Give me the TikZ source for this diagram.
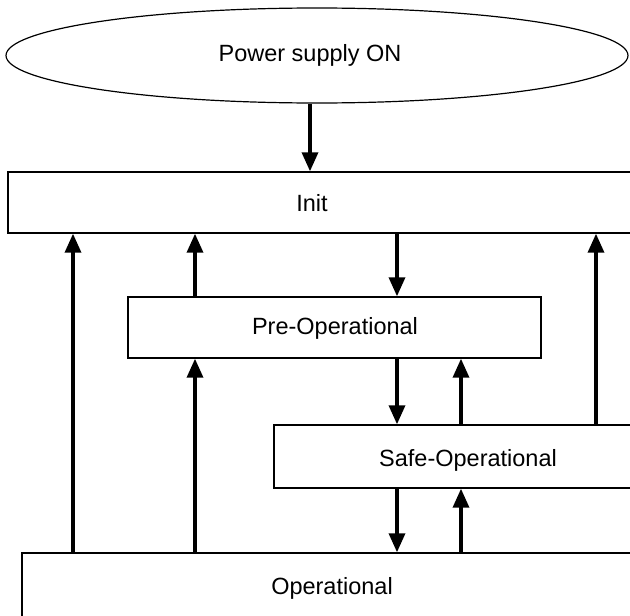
\documentclass[tikz,border=0pt]{standalone}
\usepackage{fontspec}
\setmainfont{Liberation Sans}
\usetikzlibrary{arrows.meta,shapes.geometric}
\tikzset{
  box/.style={draw=black, line width=1.4pt, fill=white, rectangle, inner sep=0pt},
  ellbox/.style={draw=black, line width=1.2pt, ellipse, inner sep=0pt},
  lbl/.style={font=\fontsize{23.5}{28}\selectfont, inner sep=0pt, anchor=center},
  arr/.style={line width=3.4pt, -{Triangle[width=16pt,length=19pt]}},
}
\begin{document}
\begin{tikzpicture}[x=1pt,y=-1pt]
\useasboundingbox (0,0) rectangle (630,616);
\clip (0,0) rectangle (630,616);
\fill[white] (0,0) rectangle (630,616);
% shapes
\node[ellbox, minimum width=622pt, minimum height=95pt] (pwr) at (317,55.5) {};
\node[box, minimum width=642pt, minimum height=61pt] (init) at (329,202.5) {};
\node[box, minimum width=413pt, minimum height=61pt] (pre) at (334.5,327.5) {};
\node[box, minimum width=376pt, minimum height=63pt] (safe) at (462,456.5) {};
\node[box, minimum width=640pt, minimum height=100pt] (op) at (342,603) {};
% labels
\node[lbl] (pwrl) at (310,55) {Power supply ON};
\node[lbl] (initl) at (312,203) {Init};
\node[lbl] (prel) at (335,328) {Pre-Operational};
\node[lbl] (safel) at (468,460) {Safe-Operational};
\node[lbl] (opl) at (332,588) {Operational};
% x positions
\coordinate (xa) at (73,0);
\coordinate (xb) at (195,0);
\coordinate (xc) at (397,0);
\coordinate (xd) at (461,0);
\coordinate (xe) at (596,0);
\coordinate (xp) at (310,0);
% connectors
\draw[arr] (pwr.south -| xp) -- (init.north -| xp);
\draw[arr] (op.north -| xa) -- (init.south -| xa);
\draw[arr] (pre.north -| xb) -- (init.south -| xb);
\draw[arr] (init.south -| xc) -- (pre.north -| xc);
\draw[arr] (safe.north -| xe) -- (init.south -| xe);
\draw[arr] (pre.south -| xc) -- (safe.north -| xc);
\draw[arr] (safe.north -| xd) -- (pre.south -| xd);
\draw[arr] (op.north -| xb) -- (pre.south -| xb);
\draw[arr] (safe.south -| xc) -- (op.north -| xc);
\draw[arr] (op.north -| xd) -- (safe.south -| xd);
\end{tikzpicture}
\end{document}
